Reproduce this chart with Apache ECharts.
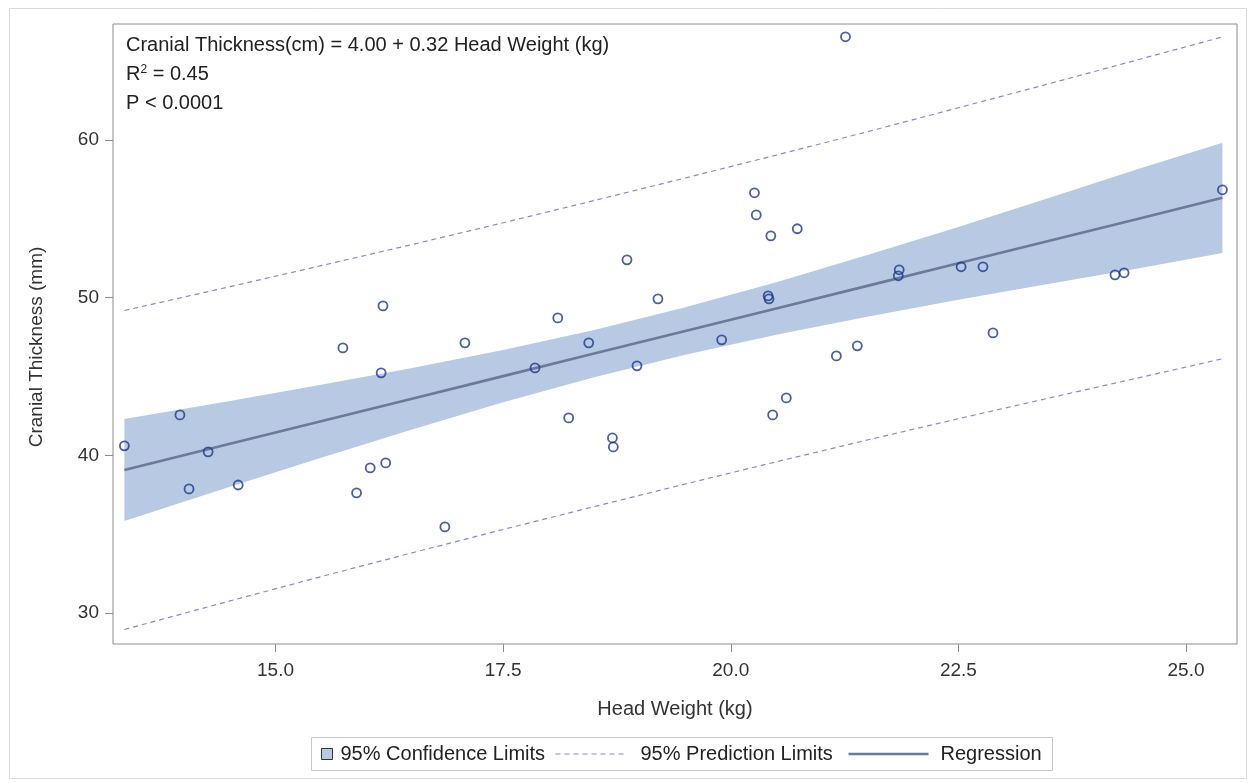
<!DOCTYPE html>
<html>
<head>
<meta charset="utf-8">
<title>Cranial Thickness vs Head Weight</title>
<script src="https://cdn.jsdelivr.net/npm/echarts@6/dist/echarts.min.js"></script>
<style>
  html, body { margin: 0; padding: 0; background: #ffffff; }
  #chart { width: 1250px; height: 783px; }
</style>
</head>
<body>
<div id="chart"></div>
<script>
// Observations: head weight (kg) and cranial thickness (mm)
const headWeight = [
  13.34, 13.95, 14.05, 14.26, 14.59, 15.74, 15.89, 16.04, 16.16, 16.18,
  16.21, 16.86, 17.08, 17.85, 18.10, 18.22, 18.44, 18.70, 18.71, 18.86,
  18.97, 19.20, 19.90, 20.26, 20.28, 20.41, 20.42, 20.44, 20.46, 20.61,
  20.73, 21.16, 21.26, 21.39, 21.84, 21.85, 22.53, 22.77, 22.88, 24.22,
  24.32, 25.40
];
const cranialThickness = [
  40.60, 42.56, 37.87, 40.22, 38.12, 46.81, 37.62, 39.20, 45.23, 49.47,
  39.52, 35.46, 47.13, 45.54, 48.71, 42.37, 47.13, 41.10, 40.53, 52.39,
  45.67, 49.92, 47.32, 56.64, 55.24, 50.11, 49.92, 53.91, 42.56, 43.64,
  54.36, 46.30, 66.53, 46.94, 51.38, 51.76, 51.95, 51.95, 47.76, 51.44,
  51.57, 56.83
];

// Fitted regression with 95% confidence and prediction limits
const fitX       = [13.34, 14.5, 15.5, 16.5, 17.5, 18.5, 19.5, 20.5, 21.5, 22.5, 23.5, 24.5, 25.4];
const fitLine    = [39.07, 40.73, 42.16, 43.59, 45.02, 46.45, 47.88, 49.31, 50.74, 52.17, 53.60, 55.03, 56.32];
const confLower  = [35.84, 38.01, 39.85, 41.64, 43.36, 44.95, 46.38, 47.65, 48.79, 49.86, 50.88, 51.87, 52.82];
const confUpper  = [42.30, 43.45, 44.47, 45.54, 46.68, 47.95, 49.38, 50.97, 52.69, 54.48, 56.32, 58.19, 59.82];
const predLower  = [28.96, 30.77, 32.31, 33.82, 35.30, 36.75, 38.18, 39.59, 40.97, 42.32, 43.64, 44.94, 46.12];
const predUpper  = [49.18, 50.69, 52.02, 53.36, 54.74, 56.15, 57.58, 59.03, 60.51, 62.03, 63.56, 65.12, 66.52];

// Axis tick values
const xTicks = [15, 17.5, 20, 22.5, 25];
const yTicks = [30, 40, 50, 60];

const fitText = [
  'Cranial Thickness(cm) = 4.00 + 0.32 Head Weight (kg)',
  '{n|R}{s|2}{n| = 0.45}',
  'P < 0.0001'
];

const FONT = '"Liberation Sans", Arial, Helvetica, sans-serif';
const COL_BAND = '#b7c9e3';
const COL_PRED = '#8a8bbd';
const COL_REG = '#6b7a99';
const COL_MARK = '#1b388a';

const pairs = (xs, ys) => xs.map((x, i) => [x, ys[i]]);

const chart = echarts.init(document.getElementById('chart'), null, { renderer: 'canvas' });

const option = {
  animation: false,
  backgroundColor: '#ffffff',
  textStyle: { fontFamily: FONT },
  grid: {
    left: 113, right: 13, top: 24, bottom: 139,
    show: true, borderColor: '#8c8c8c', borderWidth: 1,
    containLabel: false, outerBoundsMode: 'none'
  },
  xAxis: {
    type: 'value',
    min: 13.215, max: 25.56,
    name: 'Head Weight (kg)',
    nameLocation: 'middle',
    nameGap: 55,
    nameTextStyle: { fontSize: 20, color: '#333', fontFamily: FONT },
    axisLine: { show: false },
    splitLine: { show: false },
    axisTick: { show: true, inside: false, length: 8, customValues: xTicks, lineStyle: { color: '#8c8c8c' } },
    axisLabel: {
      customValues: xTicks, margin: 17, fontSize: 19, color: '#333', fontFamily: FONT,
      formatter: v => Number(v).toFixed(1)
    }
  },
  yAxis: {
    type: 'value',
    min: 28.04, max: 67.34,
    axisLine: { show: false },
    splitLine: { show: false },
    axisTick: { show: true, inside: false, length: 8, customValues: yTicks, lineStyle: { color: '#8c8c8c' } },
    axisLabel: {
      customValues: yTicks, margin: 14, fontSize: 19, color: '#333', fontFamily: FONT,
      formatter: v => String(v)
    }
  },
  graphic: [
    // outer frame
    { type: 'rect', left: 7, top: 6, shape: { width: 1237, height: 770 }, silent: true,
      style: { fill: 'none', stroke: '#d8d8d8', lineWidth: 1 }, z: -10 },
    // y axis title
    { type: 'text', x: 37, y: 347, rotation: Math.PI / 2, silent: true,
      style: { text: 'Cranial Thickness (mm)', font: '19px ' + FONT, fill: '#333',
        align: 'center', verticalAlign: 'middle' } },
    // fit statistics
    { type: 'text', left: 126, top: 35, silent: true,
      style: { text: fitText[0], font: '20px ' + FONT, fill: '#222' } },
    { type: 'text', left: 126, top: 64, silent: true,
      style: { text: fitText[1], fill: '#222',
        rich: { n: { fontSize: 20, fontFamily: FONT, fill: '#222', verticalAlign: 'bottom' },
                s: { fontSize: 12, fontFamily: FONT, fill: '#222', verticalAlign: 'top' } } } },
    { type: 'text', left: 126, top: 93, silent: true,
      style: { text: fitText[2], font: '20px ' + FONT, fill: '#222' } },
    // legend
    { type: 'group', left: 311, top: 737, silent: true, children: [
      { type: 'rect', shape: { x: 0, y: 0, width: 741, height: 33 },
        style: { fill: '#fff', stroke: '#c8c8c8', lineWidth: 1 } },
      { type: 'rect', shape: { x: 10, y: 11, width: 11, height: 11 },
        style: { fill: COL_BAND, stroke: '#333', lineWidth: 1 } },
      { type: 'text', x: 29, y: 16.5,
        style: { text: '95% Confidence Limits', font: '20px ' + FONT, fill: '#222', verticalAlign: 'middle' } },
      { type: 'line', shape: { x1: 244, y1: 16.5, x2: 316, y2: 16.5 },
        style: { stroke: COL_PRED, lineWidth: 1.2, lineDash: [5, 4] } },
      { type: 'text', x: 329, y: 16.5,
        style: { text: '95% Prediction Limits', font: '20px ' + FONT, fill: '#222', verticalAlign: 'middle' } },
      { type: 'line', shape: { x1: 537, y1: 16.5, x2: 617, y2: 16.5 },
        style: { stroke: COL_REG, lineWidth: 2.5 } },
      { type: 'text', x: 629, y: 16.5,
        style: { text: 'Regression', font: '20px ' + FONT, fill: '#222', verticalAlign: 'middle' } }
    ] }
  ],
  series: [
    {
      name: '95% Confidence Limits',
      type: 'custom',
      coordinateSystem: 'cartesian2d',
      data: [[fitX[0], fitLine[0]]],
      silent: true,
      z: 1,
      renderItem: function (params, api) {
        const upper = fitX.map((x, i) => api.coord([x, confUpper[i]]));
        const lower = fitX.map((x, i) => api.coord([x, confLower[i]])).reverse();
        return {
          type: 'polygon',
          shape: { points: upper.concat(lower) },
          style: { fill: COL_BAND, stroke: 'none' }
        };
      }
    },
    {
      name: '95% Prediction Limits',
      type: 'line',
      data: pairs(fitX, predUpper),
      showSymbol: false, symbol: 'none', silent: true, z: 2,
      lineStyle: { color: COL_PRED, width: 1.2, type: [5, 4] }
    },
    {
      name: '95% Prediction Limits',
      type: 'line',
      data: pairs(fitX, predLower),
      showSymbol: false, symbol: 'none', silent: true, z: 2,
      lineStyle: { color: COL_PRED, width: 1.2, type: [5, 4] }
    },
    {
      name: 'Regression',
      type: 'line',
      data: pairs(fitX, fitLine),
      showSymbol: false, symbol: 'none', silent: true, z: 3,
      lineStyle: { color: COL_REG, width: 2.6 }
    },
    {
      name: 'Observations',
      type: 'scatter',
      data: pairs(headWeight, cranialThickness),
      symbol: 'circle',
      symbolSize: 9,
      silent: true,
      z: 4,
      itemStyle: { color: 'rgba(0,0,0,0)', borderColor: COL_MARK, borderWidth: 1.8 }
    }
  ]
};

chart.setOption(option);
</script>
</body>
</html>
